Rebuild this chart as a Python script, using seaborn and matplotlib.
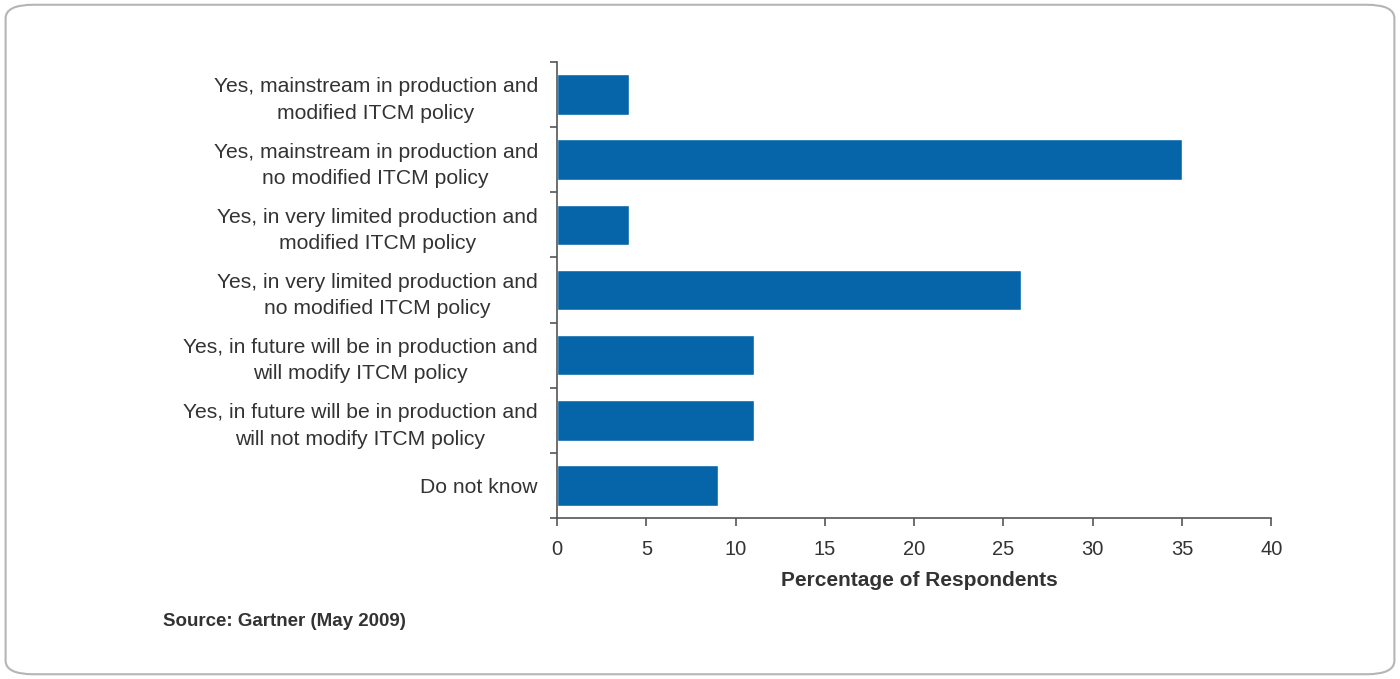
import matplotlib
matplotlib.use("Agg")
import matplotlib.pyplot as plt
from matplotlib.patches import FancyBboxPatch
import seaborn as sns
import pandas as pd

categories = [
    "Yes, mainstream in production and\nmodified ITCM policy",
    "Yes, mainstream in production and\nno modified ITCM policy",
    "Yes, in very limited production and\nmodified ITCM policy",
    "Yes, in very limited production and\nno modified ITCM policy",
    "Yes, in future will be in production and\nwill modify ITCM policy",
    "Yes, in future will be in production and\nwill not modify ITCM policy",
    "Do not know",
]
percentages = [4, 35, 4, 26, 11, 11, 9]
x_ticks = [0, 5, 10, 15, 20, 25, 30, 35, 40]

df = pd.DataFrame({"category": categories, "pct": percentages})

sns.set_theme(style="white")
plt.rcParams["font.family"] = ["Liberation Sans", "DejaVu Sans"]

text_color = "#333333"
bar_color = "#0565a8"

fig = plt.figure(figsize=(14, 6.79), dpi=100)

# rounded frame around the whole figure
frame = FancyBboxPatch((0.004, 0.007), 0.992, 0.986,
                       boxstyle="round,pad=0,rounding_size=0.02",
                       transform=fig.transFigure, facecolor="none",
                       edgecolor="#b5b5b5", linewidth=1.5, zorder=-1)
fig.patches.append(frame)

ax = fig.add_axes([0.398, 0.237, 0.51, 0.672])
ax.set_facecolor("none")

sns.barplot(data=df, x="pct", y="category", orient="h", color=bar_color,
            width=0.62, saturation=1, ax=ax)

ax.set_xlim(0, 40)
ax.set_ylim(len(categories) - 0.5, -0.5)
ax.set_xticks(x_ticks)
ax.set_xticklabels([str(t) for t in x_ticks], fontsize=14.5, color=text_color)
ax.set_xlabel("Percentage of Respondents", fontsize=15, fontweight="bold",
              color=text_color, labelpad=8)
ax.xaxis.set_label_coords(0.507, -0.115)
ax.set_ylabel("")

# category labels on major ticks, tick marks at category boundaries
ax.set_yticks(range(len(categories)))
ax.set_yticklabels(categories, fontsize=15.2, color=text_color,
                   linespacing=1.48, multialignment="center")
ax.set_yticks([i - 0.5 for i in range(len(categories) + 1)], minor=True)
ax.tick_params(axis="y", which="major", length=0, pad=14)
ax.tick_params(axis="y", which="minor", length=5, width=1.2,
               color="#555555", direction="out", left=True)
ax.tick_params(axis="x", which="major", length=6, width=1.2,
               color="#555555", direction="out", pad=10, bottom=True)
for lbl in ax.get_yticklabels():
    lbl.set_horizontalalignment("right")

for side in ["top", "right"]:
    ax.spines[side].set_visible(False)
for side in ["left", "bottom"]:
    ax.spines[side].set_color("#555555")
    ax.spines[side].set_linewidth(1.2)

fig.text(163 / 1400, 1 - 622 / 679, "Source: Gartner (May 2009)",
         fontsize=13.5, fontweight="bold", color=text_color,
         ha="left", va="center")

fig.savefig("out.png", dpi=100, facecolor="white")
